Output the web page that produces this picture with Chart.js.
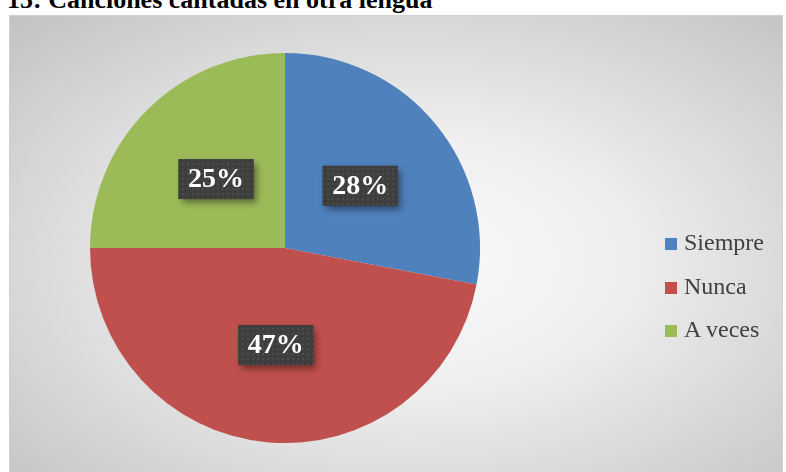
<!DOCTYPE html>
<html>
<head>
<meta charset="utf-8">
<script src="https://cdn.jsdelivr.net/npm/chart.js@4.4.1/dist/chart.umd.min.js"></script>
<style>
  html, body { margin: 0; padding: 0; width: 786px; height: 472px; overflow: hidden; background: #fff; }
  #title {
    position: absolute; left: 7px; top: -15px;
    font: bold 26px "Liberation Serif", "Times New Roman", serif;
    color: #000; white-space: nowrap;
  }
  #frame {
    position: absolute; left: 9px; top: 15px; width: 772px; height: 490px;
    border: 1px solid #d0d0d0;
    background: radial-gradient(ellipse farthest-corner at 52% 50%, #fbfbfb 0%, #eeeeee 38%, #c2c2c2 100%);
  }
  #frame canvas { position: absolute; left: 0; top: 0; }
  #legend { position: absolute; left: 655px; top: 218px; }
  .item { position: relative; height: 43.5px; }
  .swatch { position: absolute; left: 0; top: 4px; width: 12px; height: 12px; }
  .label {
    position: absolute; left: 19px; top: -5px;
    font: 24px "Liberation Serif", serif; color: #404040; white-space: nowrap;
  }
</style>
</head>
<body>
<div id="title">15: Canciones cantadas en otra lengua</div>
<div id="frame">
  <canvas id="chart" width="772" height="490"></canvas>
  <div id="legend"></div>
</div>
<script>
// --- Data ---
const categories = ['Siempre', 'Nunca', 'A veces'];
const percentages = [28, 47, 25];
const sliceColors = ['#4f81bd', '#c0504d', '#9bbb59'];

// dark dotted fill used behind the value labels
function makeDotPattern(ctx) {
    const tile = document.createElement('canvas');
    tile.width = 5;
    tile.height = 5;
    const t = tile.getContext('2d');
    t.fillStyle = '#3e3e3e';
    t.fillRect(0, 0, 5, 5);
    t.fillStyle = '#4c4c4c';
    t.fillRect(2, 2, 2, 2);
    return ctx.createPattern(tile, 'repeat');
}

// value boxes drawn at the middle of each slice
const valueBoxes = {
    id: 'valueBoxes',
    afterDatasetsDraw(chart) {
        const ctx = chart.ctx;
        const meta = chart.getDatasetMeta(0);
        const pattern = makeDotPattern(ctx);
        const values = chart.data.datasets[0].data;
        meta.data.forEach((arc, i) => {
            const pos = arc.tooltipPosition();
            const w = 75, h = 40;
            const x = pos.x - w / 2, y = pos.y - h / 2;
            ctx.save();
            ctx.shadowColor = 'rgba(0, 0, 0, 0.45)';
            ctx.shadowBlur = 7;
            ctx.shadowOffsetX = 3;
            ctx.shadowOffsetY = 4;
            ctx.fillStyle = '#3e3e3e';
            ctx.fillRect(x, y, w, h);
            ctx.restore();

            ctx.save();
            ctx.fillStyle = pattern;
            ctx.fillRect(x, y, w, h);
            ctx.fillStyle = '#ffffff';
            ctx.font = 'bold 28px "Liberation Serif", serif';
            ctx.textAlign = 'center';
            ctx.textBaseline = 'middle';
            ctx.fillText(values[i] + '%', pos.x, pos.y + 1);
            ctx.restore();
        });
    }
};

const ctx = document.getElementById('chart').getContext('2d');
const chart = new Chart(ctx, {
    type: 'pie',
    data: {
        labels: categories,
        datasets: [{
            data: percentages,
            backgroundColor: sliceColors,
            borderWidth: 0
        }]
    },
    options: {
        responsive: false,
        animation: false,
        layout: { padding: { left: 80, right: 302, top: 37, bottom: 63 } },
        plugins: {
            legend: { display: false },
            tooltip: { enabled: false }
        }
    },
    plugins: [valueBoxes]
});

// --- Legend ---
const legend = document.getElementById('legend');
categories.forEach((name, i) => {
    const item = document.createElement('div');
    item.className = 'item';
    const swatch = document.createElement('div');
    swatch.className = 'swatch';
    swatch.style.background = sliceColors[i];
    const label = document.createElement('div');
    label.className = 'label';
    label.textContent = name;
    item.appendChild(swatch);
    item.appendChild(label);
    legend.appendChild(item);
});
</script>
</body>
</html>
